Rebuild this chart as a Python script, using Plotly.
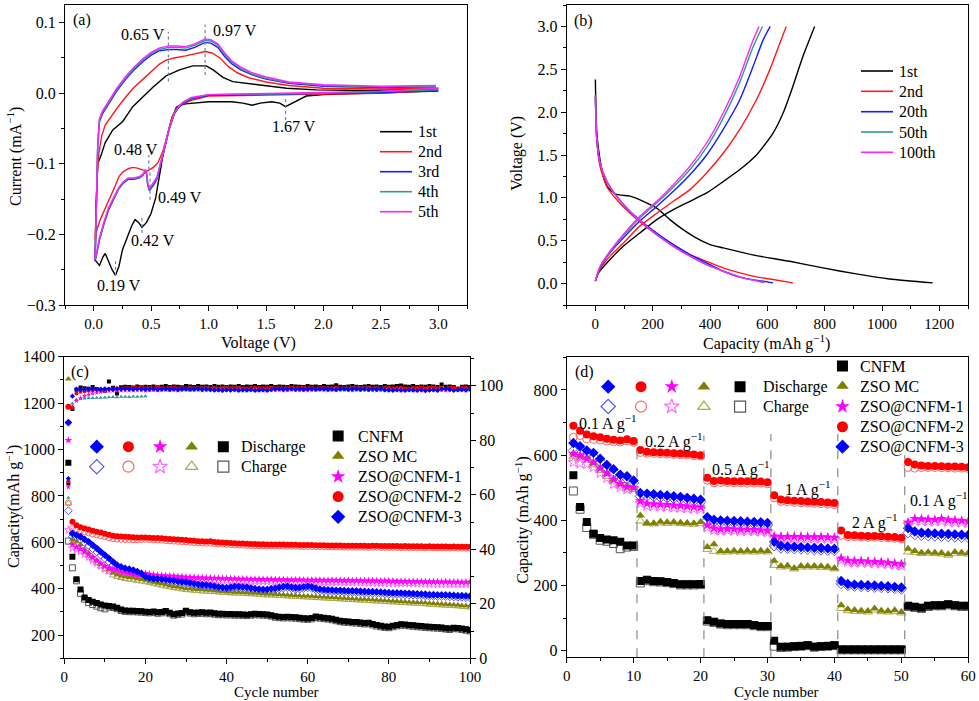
import plotly.graph_objects as go

W, H = 979, 701
FONT = "Liberation Serif"


def px(x):
    return x / W


def py(y):
    return 1 - y / H


# ---------------- (a) CV data ----------------
cv_labels = ["1st", "2nd", "3rd", "4th", "5th"]
cv_colors = ["#000000", "#ff1a1a", "#1a1aff", "#2e9c8c", "#ff22ff"]

cv1_v = [3.0, 2.5, 2.0, 1.85, 1.78, 1.72, 1.67, 1.62, 1.55, 1.45, 1.38, 1.3, 1.2, 1.0, 0.9, 0.8, 0.75, 0.72,
         0.68, 0.64, 0.6, 0.57, 0.54, 0.5, 0.46, 0.42, 0.39, 0.36, 0.33, 0.29, 0.25, 0.22, 0.19, 0.16, 0.13,
         0.1, 0.08, 0.05, 0.03, 0.012,
         0.02, 0.035, 0.064, 0.1, 0.166, 0.253, 0.34, 0.427, 0.515, 0.63, 0.747, 0.863, 0.98, 1.04, 1.125,
         1.21, 1.36, 1.5, 1.68, 1.94, 2.37, 2.96, 3.0]
cv1_i = [0.003, 0.0, -0.002, -0.004, -0.01, -0.015, -0.019, -0.014, -0.012, -0.014, -0.017, -0.014, -0.012,
         -0.012, -0.013, -0.015, -0.017, -0.02, -0.035, -0.06, -0.09, -0.12, -0.148, -0.17, -0.183, -0.19,
         -0.183, -0.179, -0.188, -0.205, -0.222, -0.245, -0.258, -0.25, -0.238, -0.227, -0.232, -0.244,
         -0.24, -0.236,
         -0.16, -0.1, -0.088, -0.07, -0.052, -0.04, -0.019, -0.005, 0.0085, 0.0245, 0.033, 0.0387, 0.0387,
         0.033, 0.0226, 0.0165, 0.0132, 0.011, 0.007, 0.0047, 0.0038, 0.0057, 0.007]

cv2_v = [3.0, 2.5, 2.0, 1.5, 1.0, 0.85, 0.78, 0.72, 0.68, 0.64, 0.6, 0.56, 0.52, 0.49, 0.47, 0.45, 0.42, 0.38,
         0.34, 0.3, 0.25, 0.22, 0.19, 0.15, 0.1, 0.06, 0.03, 0.012,
         0.02, 0.03, 0.045, 0.07, 0.1, 0.15, 0.2, 0.28, 0.35, 0.43, 0.5, 0.57, 0.63, 0.7, 0.8, 0.9, 0.97,
         1.03, 1.1, 1.17, 1.25, 1.35, 1.5, 1.7, 2.0, 2.5, 2.98]
cv2_i = [0.004, 0.0, -0.001, -0.002, -0.004, -0.01, -0.015, -0.022, -0.035, -0.06, -0.083, -0.098, -0.105,
         -0.108, -0.11, -0.11, -0.108, -0.106, -0.105, -0.107, -0.112, -0.118, -0.13, -0.145, -0.162,
         -0.178, -0.192, -0.207,
         -0.17, -0.12, -0.085, -0.06, -0.045, -0.033, -0.022, -0.005, 0.008, 0.02, 0.031, 0.041, 0.047,
         0.05, 0.053, 0.057, 0.059, 0.057, 0.05, 0.038, 0.029, 0.022, 0.016, 0.011, 0.007, 0.006, 0.007]

cv3_v = [3.0, 2.5, 2.0, 1.5, 1.0, 0.85, 0.78, 0.74, 0.7, 0.66, 0.62, 0.58, 0.55, 0.52, 0.5, 0.485, 0.47,
         0.46, 0.45, 0.43, 0.4, 0.35, 0.3, 0.26, 0.22, 0.18, 0.13, 0.09, 0.05, 0.03, 0.012,
         0.018, 0.025, 0.035, 0.05, 0.08, 0.12, 0.2, 0.28, 0.35, 0.43, 0.5, 0.57, 0.65, 0.72, 0.8, 0.88,
         0.93, 0.97, 1.02, 1.08, 1.14, 1.2, 1.28, 1.38, 1.5, 1.7, 2.0, 2.5, 2.98]
cv3_i = [0.004, 0.001, 0.0, -0.001, -0.003, -0.008, -0.014, -0.02, -0.03, -0.05, -0.075, -0.103, -0.122,
         -0.13, -0.135, -0.138, -0.13, -0.115, -0.11, -0.116, -0.12, -0.122, -0.122, -0.127, -0.135,
         -0.148, -0.165, -0.185, -0.208, -0.225, -0.238,
         -0.2, -0.13, -0.075, -0.04, -0.028, -0.018, 0.003, 0.02, 0.033, 0.045, 0.054, 0.06, 0.062, 0.062,
         0.061, 0.065, 0.069, 0.072, 0.071, 0.065, 0.052, 0.042, 0.033, 0.026, 0.02, 0.014, 0.01, 0.008,
         0.009]

cv4_v = [3.0, 2.5, 2.0, 1.5, 1.0, 0.85, 0.78, 0.74, 0.7, 0.66, 0.62, 0.58, 0.55, 0.52, 0.5, 0.485, 0.47,
         0.46, 0.45, 0.43, 0.4, 0.35, 0.3, 0.26, 0.22, 0.18, 0.13, 0.09, 0.05, 0.03, 0.012,
         0.018, 0.025, 0.035, 0.05, 0.08, 0.12, 0.2, 0.28, 0.35, 0.43, 0.5, 0.57, 0.65, 0.72, 0.8, 0.88,
         0.93, 0.97, 1.02, 1.08, 1.14, 1.2, 1.28, 1.38, 1.5, 1.7, 2.0, 2.5, 2.98]
cv4_i = [0.005, 0.002, 0.0, -0.001, -0.002, -0.007, -0.013, -0.019, -0.029, -0.049, -0.073, -0.101,
         -0.12, -0.128, -0.133, -0.136, -0.128, -0.113, -0.109, -0.115, -0.119, -0.121, -0.121, -0.126,
         -0.134, -0.146, -0.163, -0.183, -0.206, -0.223, -0.236,
         -0.198, -0.128, -0.073, -0.038, -0.026, -0.016, 0.005, 0.022, 0.035, 0.047, 0.056, 0.062, 0.065,
         0.065, 0.064, 0.068, 0.072, 0.075, 0.074, 0.068, 0.055, 0.044, 0.035, 0.027, 0.021, 0.015, 0.011,
         0.009, 0.01]

cv5_v = [3.0, 2.5, 2.0, 1.5, 1.0, 0.85, 0.78, 0.74, 0.7, 0.66, 0.62, 0.58, 0.55, 0.52, 0.5, 0.485, 0.47,
         0.46, 0.45, 0.43, 0.4, 0.35, 0.3, 0.26, 0.22, 0.18, 0.13, 0.09, 0.05, 0.03, 0.012,
         0.018, 0.025, 0.035, 0.05, 0.08, 0.12, 0.2, 0.28, 0.35, 0.43, 0.5, 0.57, 0.65, 0.72, 0.8, 0.88,
         0.93, 0.97, 1.02, 1.08, 1.14, 1.2, 1.28, 1.38, 1.5, 1.7, 2.0, 2.5, 2.98]
cv5_i = [0.007, 0.003, 0.001, 0.0, -0.002, -0.006, -0.012, -0.018, -0.028, -0.048, -0.072, -0.1, -0.119,
         -0.127, -0.132, -0.135, -0.127, -0.112, -0.108, -0.114, -0.118, -0.12, -0.12, -0.125, -0.133,
         -0.145, -0.162, -0.182, -0.205, -0.222, -0.235,
         -0.196, -0.126, -0.071, -0.036, -0.024, -0.014, 0.007, 0.024, 0.037, 0.049, 0.058, 0.064, 0.067,
         0.067, 0.066, 0.07, 0.074, 0.077, 0.076, 0.07, 0.057, 0.046, 0.037, 0.029, 0.023, 0.016, 0.012,
         0.01, 0.011]

cv_peak_v = [0.65, 0.97, 1.67, 0.48, 0.49, 0.42, 0.19]
cv_peak_lo = [0.0165, 0.026, -0.038, -0.108, -0.151, -0.198, -0.259]
cv_peak_hi = [0.087, 0.097, -0.005, -0.087, -0.108, -0.172, -0.238]
cv_peak_text = ["0.65 V", "0.97 V", "1.67 V", "0.48 V", "0.49 V", "0.42 V", "0.19 V"]
cv_text_x = [0.43, 1.23, 1.74, 0.37, 0.75, 0.52, 0.22]
cv_text_y = [0.083, 0.089, -0.047, -0.079, -0.147, -0.208, -0.273]

# ---------------- (b) charge/discharge data ----------------
gcd_labels = ["1st", "2nd", "20th", "50th", "100th"]
gcd_colors = ["#000000", "#ff1a1a", "#1a1aff", "#2e9c8c", "#ff22ff"]

g1_dis_c = [0, 5, 16, 28, 45, 74, 121, 167, 214, 260, 306, 353, 400, 446, 504, 562, 678, 794, 910, 1026, 1177]
g1_dis_v = [2.38, 1.76, 1.45, 1.25, 1.115, 1.04, 1.02, 0.96, 0.88, 0.746, 0.63, 0.53, 0.455, 0.416, 0.37,
            0.326, 0.26, 0.183, 0.113, 0.054, 0.008]
g1_chg_c = [0, 10, 40, 97, 155, 214, 272, 330, 388, 446, 504, 562, 620, 655, 689, 724, 765]
g1_chg_v = [0.03, 0.12, 0.24, 0.435, 0.59, 0.746, 0.863, 0.96, 1.057, 1.19, 1.33, 1.5, 1.756, 1.99, 2.3, 2.65, 3.0]

g2_dis_c = [0, 5, 16, 40, 74, 121, 167, 214, 272, 330, 388, 446, 504, 562, 620, 689]
g2_dis_v = [2.2, 1.68, 1.37, 1.13, 0.98, 0.82, 0.69, 0.57, 0.455, 0.338, 0.26, 0.183, 0.124, 0.078, 0.047, 0.008]
g2_chg_c = [0, 16, 51, 97, 155, 214, 272, 330, 388, 446, 504, 562, 608, 643, 666]
g2_chg_v = [0.03, 0.16, 0.32, 0.47, 0.67, 0.82, 0.96, 1.096, 1.29, 1.52, 1.8, 2.145, 2.49, 2.8, 3.0]

g20_dis_c = [0, 5, 16, 40, 74, 121, 167, 214, 272, 330, 388, 446, 515, 580, 620]
g20_dis_v = [2.18, 1.68, 1.41, 1.19, 1.02, 0.84, 0.71, 0.59, 0.455, 0.338, 0.24, 0.144, 0.066, 0.03, 0.008]
g20_chg_c = [0, 16, 51, 97, 155, 214, 272, 330, 388, 446, 504, 550, 585, 610]
g20_chg_v = [0.03, 0.18, 0.36, 0.53, 0.73, 0.9, 1.076, 1.27, 1.5, 1.8, 2.145, 2.53, 2.84, 3.0]

g50_dis_c = [0, 5, 16, 40, 74, 121, 167, 214, 272, 330, 388, 446, 515, 590]
g50_dis_v = [2.18, 1.68, 1.41, 1.19, 1.02, 0.84, 0.70, 0.57, 0.435, 0.32, 0.22, 0.144, 0.066, 0.012]
g50_chg_c = [0, 16, 51, 97, 155, 214, 272, 330, 388, 446, 504, 550, 583]
g50_chg_v = [0.03, 0.19, 0.37, 0.555, 0.765, 0.94, 1.125, 1.33, 1.59, 1.93, 2.35, 2.76, 3.0]

g100_dis_c = [0, 5, 16, 40, 74, 121, 167, 214, 272, 330, 388, 446, 515, 585]
g100_dis_v = [2.18, 1.68, 1.41, 1.19, 1.02, 0.84, 0.70, 0.57, 0.435, 0.32, 0.22, 0.144, 0.066, 0.016]
g100_chg_c = [0, 16, 51, 97, 155, 214, 272, 330, 388, 446, 504, 550, 571]
g100_chg_v = [0.03, 0.2, 0.377, 0.57, 0.785, 0.96, 1.154, 1.37, 1.64, 1.99, 2.42, 2.84, 3.0]

# ---------------- (c) cycling data ----------------
cycles_c = list(range(1, 101))
samples = ["CNFM", "ZSO MC", "ZSO@CNFM-1", "ZSO@CNFM-2", "ZSO@CNFM-3"]
fill_colors = ["#000000", "#808000", "#ff00ff", "#ff0000", "#0000ff"]
open_colors = ["#555555", "#a8a850", "#ff66ff", "#ff6666", "#5555ff"]
ce_colors = ["#000000", "#2e9c8c", "#ff00ff", "#ff0000", "#0000ff"]
symbols = ["square", "triangle-up", "star", "circle", "diamond"]

cnfm_dis = [943, 538, 441, 397, 362, 351, 344, 338, 332, 328,
            325, 323, 318, 310, 306, 305, 305, 304, 303, 301,
            300, 302, 298, 300, 304, 296, 290, 293, 295, 305,
            299, 296, 297, 298, 296, 297, 294, 292, 292, 291,
            291, 290, 290, 289, 288, 290, 292, 291, 290, 289,
            286, 281, 279, 278, 279, 278, 277, 275, 273, 272,
            274, 280, 277, 275, 273, 270, 266, 262, 260, 259,
            257, 256, 254, 252, 253, 248, 243, 240, 237, 236,
            240, 244, 247, 246, 244, 242, 240, 239, 237, 236,
            235, 234, 233, 230, 228, 232, 231, 228, 225, 222]
cnfm_chg = [605, 490, 434, 380, 355, 340, 332, 325, 318, 313,
            321, 319, 314, 306, 302, 301, 301, 300, 299, 297,
            296, 298, 294, 296, 300, 292, 286, 289, 291, 301,
            295, 292, 293, 294, 292, 293, 290, 288, 288, 287,
            287, 286, 286, 285, 284, 286, 288, 287, 286, 285,
            282, 277, 275, 274, 275, 274, 273, 271, 269, 268,
            270, 276, 273, 271, 269, 266, 262, 258, 256, 255,
            253, 252, 250, 248, 249, 244, 239, 236, 233, 232,
            236, 240, 243, 242, 240, 238, 236, 235, 233, 232,
            231, 230, 229, 226, 224, 228, 227, 224, 221, 218]
zso_dis = [1304, 612, 605, 590, 570, 555, 538, 523, 508, 495,
           482, 468, 460, 455, 451, 448, 446, 443, 440, 437,
           433, 429, 425, 421, 417, 413, 410, 407, 404, 401,
           400, 398, 397, 395, 394, 393, 391, 390, 388, 387,
           386, 385, 385, 384, 383, 382, 381, 380, 378, 377,
           377, 376, 375, 374, 373, 372, 371, 370, 369, 368,
           367, 366, 365, 364, 363, 362, 361, 360, 359, 358,
           357, 356, 355, 354, 353, 352, 351, 350, 349, 348,
           347, 346, 345, 344, 343, 342, 341, 340, 339, 337,
           336, 335, 334, 333, 332, 331, 330, 328, 327, 325]
zso_chg = [768, 598, 590, 575, 556, 541, 525, 510, 496, 483,
           470, 457, 450, 446, 442, 439, 437, 434, 431, 428,
           425, 421, 417, 413, 409, 406, 403, 400, 397, 394,
           393, 391, 390, 388, 387, 386, 385, 384, 382, 381,
           380, 379, 379, 378, 377, 376, 375, 374, 372, 371,
           371, 370, 369, 368, 367, 366, 365, 364, 363, 362,
           361, 360, 359, 358, 357, 356, 355, 354, 353, 352,
           351, 350, 349, 348, 347, 346, 345, 344, 343, 342,
           341, 340, 339, 338, 337, 336, 335, 334, 333, 331,
           330, 329, 328, 327, 326, 325, 324, 322, 321, 319]
m1_dis = [1040, 590, 580, 572, 560, 548, 535, 520, 508, 497,
          490, 484, 479, 474, 470, 466, 463, 460, 458, 466,
          462, 460, 458, 457, 456, 455, 454, 452, 451, 450,
          449, 448, 447, 447, 446, 446, 445, 445, 444, 444,
          443, 443, 442, 442, 442, 441, 441, 441, 440, 440,
          440, 439, 439, 439, 438, 438, 438, 438, 437, 437,
          437, 437, 437, 436, 436, 437, 436, 436, 435, 436,
          435, 435, 435, 434, 434, 434, 434, 433, 434, 433,
          433, 432, 432, 432, 431, 431, 431, 431, 430, 430,
          430, 430, 429, 430, 429, 429, 429, 428, 429, 429]
m1_chg = [653, 575, 568, 560, 548, 536, 523, 509, 497, 486,
          479, 474, 469, 464, 460, 457, 454, 451, 449, 456,
          453, 451, 449, 448, 447, 446, 445, 443, 442, 441,
          440, 439, 438, 438, 437, 437, 436, 436, 435, 435,
          434, 434, 433, 433, 433, 432, 432, 432, 431, 431,
          431, 430, 430, 430, 429, 429, 429, 429, 428, 428,
          428, 428, 428, 427, 427, 428, 427, 427, 426, 427,
          426, 426, 426, 425, 425, 425, 425, 424, 425, 424,
          424, 423, 423, 423, 422, 422, 422, 422, 421, 421,
          421, 421, 420, 421, 420, 420, 420, 419, 420, 420]
m2_dis = [1184, 689, 674, 665, 659, 655, 650, 646, 642, 637,
          633, 628, 626, 625, 624, 623, 622, 621, 621, 621,
          620, 619, 618, 617, 615, 614, 613, 612, 611, 610,
          608, 607, 605, 604, 603, 604, 601, 600, 599, 598,
          597, 596, 595, 595, 594, 593, 593, 592, 592, 591,
          591, 590, 590, 590, 589, 589, 589, 588, 588, 588,
          588, 587, 587, 587, 586, 586, 586, 586, 585, 585,
          585, 585, 585, 585, 584, 585, 585, 584, 584, 584,
          584, 584, 583, 584, 583, 583, 583, 583, 582, 583,
          582, 582, 582, 582, 581, 582, 581, 581, 581, 581]
m2_chg = [770, 660, 655, 650, 645, 640, 636, 632, 628, 624,
          620, 616, 614, 613, 612, 612, 611, 611, 612, 613,
          612, 611, 610, 609, 607, 606, 605, 604, 603, 602,
          600, 599, 598, 597, 596, 596, 594, 593, 592, 591,
          590, 589, 588, 588, 587, 586, 586, 585, 585, 584,
          585, 584, 584, 584, 583, 583, 583, 582, 582, 582,
          582, 581, 581, 581, 580, 580, 580, 580, 579, 579,
          579, 579, 579, 579, 578, 579, 579, 578, 578, 578,
          578, 578, 577, 578, 577, 577, 577, 577, 576, 577,
          576, 576, 576, 576, 575, 576, 575, 575, 575, 575]
m3_dis = [1116, 638, 631, 624, 613, 602, 588, 574, 559, 545,
          531, 516, 502, 494, 488, 484, 480, 474, 466, 452,
          447, 444, 442, 441, 439, 437, 435, 432, 430, 428,
          425, 422, 419, 417, 416, 414, 411, 408, 406, 404,
          407, 410, 409, 408, 407, 403, 400, 398, 397, 397,
          400, 402, 406, 409, 411, 407, 404, 405, 408, 411,
          408, 402, 398, 396, 395, 394, 393, 393, 392, 391,
          391, 390, 389, 388, 387, 387, 386, 385, 384, 383,
          382, 382, 381, 380, 380, 379, 378, 377, 376, 374,
          374, 373, 373, 373, 372, 371, 370, 370, 369, 368]
m3_chg = [736, 625, 618, 610, 598, 586, 572, 558, 544, 530,
          516, 502, 490, 484, 479, 475, 471, 466, 458, 446,
          440, 437, 435, 434, 432, 430, 428, 425, 423, 421,
          418, 415, 412, 410, 409, 407, 404, 401, 399, 397,
          400, 403, 402, 401, 400, 396, 393, 391, 390, 390,
          393, 395, 399, 402, 404, 400, 397, 398, 401, 404,
          401, 395, 391, 389, 388, 387, 386, 386, 385, 384,
          384, 383, 382, 381, 380, 380, 379, 378, 377, 376,
          375, 375, 374, 373, 373, 372, 371, 370, 369, 367,
          367, 366, 366, 366, 365, 364, 363, 363, 362, 361]

ce_cnfm = [64.2, 91.5, 98.6, 99.4, 99.1, 98.9, 99.6, 98.8, 98.4, 98.2,
           101.6, 99.3, 97.2, 99.5, 99.7, 99.6, 99.4, 99.8, 99.5, 99.7,
           99.6, 99.8, 99.5, 99.7, 99.9, 99.6, 99.8, 99.7, 99.5, 99.9,
           99.8, 99.6, 99.9, 99.7, 99.8, 99.6, 99.9, 99.7, 99.8, 99.6,
           99.8, 99.7, 99.9, 99.6, 99.8, 99.7, 99.9, 99.6, 99.8, 99.7,
           99.9, 99.6, 99.8, 99.7, 99.6, 99.9, 99.8, 99.7, 99.6, 99.9,
           99.7, 99.8, 99.6, 99.9, 99.7, 99.8, 100.2, 99.7, 99.6, 99.8,
           99.9, 99.7, 99.6, 99.8, 99.9, 99.7, 99.8, 99.6, 99.9, 99.7,
           99.8, 99.9, 100.1, 99.8, 99.7, 99.9, 99.6, 99.8, 99.7, 99.9,
           99.8, 99.6, 100.5, 99.7, 99.8, 99.6, 98.9, 99.7, 99.8, 99.6]
ce_zso = [58.9, 93.5, 95.0, 95.3, 95.4, 95.5, 95.5, 95.6, 95.6, 95.7,
          95.8, 95.9, 95.8, 96.0, 96.0, 95.9, 96.1, 96.0, 96.1, 96.2,
          98.3, 98.4, 98.3, 98.5, 98.4, 98.3, 98.5, 98.4, 98.6, 98.5,
          98.4, 98.5, 98.6, 98.4, 98.5, 98.6, 98.5, 98.4, 98.6, 98.5,
          98.5, 98.6, 98.4, 98.5, 98.7, 98.5, 98.6, 98.4, 98.5, 98.6,
          98.5, 98.7, 98.6, 98.5, 98.4, 98.6, 98.5, 98.7, 98.6, 98.5,
          98.6, 98.5, 98.7, 98.6, 98.4, 98.5, 98.6, 98.7, 98.5, 98.6,
          98.4, 98.6, 98.5, 98.7, 98.6, 98.5, 98.6, 98.4, 98.5, 98.6,
          98.5, 98.7, 98.6, 98.5, 98.6, 98.4, 98.5, 98.7, 98.6, 98.5,
          98.6, 98.5, 98.7, 98.4, 98.6, 98.5, 98.6, 98.7, 98.5, 98.6]
ce_m1 = [62.8, 92.5, 94.5, 95.5, 96.3, 96.8, 97.2, 97.5, 97.8, 98.0,
         98.1, 98.2, 98.2, 98.3, 98.3, 98.4, 98.3, 98.4, 98.4, 98.2,
         98.4, 98.5, 98.3, 98.4, 98.6, 98.4, 98.5, 98.3, 98.4, 98.5,
         98.6, 98.4, 98.5, 98.3, 98.4, 98.6, 98.5, 98.4, 98.3, 98.5,
         98.4, 98.6, 98.5, 98.3, 98.4, 98.5, 98.6, 98.4, 98.3, 98.5,
         98.6, 98.4, 98.5, 98.3, 98.4, 98.6, 98.5, 98.4, 98.5, 98.3,
         98.4, 98.5, 98.6, 98.4, 98.3, 98.5, 98.4, 98.6, 98.5, 98.4,
         98.3, 98.5, 98.4, 98.6, 98.5, 98.4, 98.3, 98.5, 98.4, 98.6,
         98.5, 98.4, 98.3, 98.5, 98.6, 98.4, 98.5, 98.3, 98.4, 98.5,
         98.6, 98.4, 98.5, 98.3, 98.4, 98.6, 98.5, 98.4, 98.3, 98.5]
ce_m2 = [65.0, 92.0, 97.2, 97.8, 98.0, 98.2, 98.4, 98.6, 98.7, 98.8,
         98.9, 99.0, 99.1, 99.0, 99.2, 99.1, 99.2, 99.3, 99.2, 99.1,
         99.2, 99.1, 99.3, 99.2, 99.0, 99.2, 99.3, 99.1, 99.2, 99.0,
         99.3, 99.2, 99.1, 99.2, 99.3, 99.1, 99.2, 99.0, 99.2, 99.3,
         99.1, 99.2, 99.3, 99.1, 99.0, 99.2, 99.3, 99.2, 99.1, 99.2,
         99.3, 99.1, 99.2, 99.0, 99.2, 99.3, 99.1, 99.2, 99.3, 99.1,
         99.2, 99.0, 99.2, 99.3, 99.1, 99.2, 99.3, 99.1, 99.2, 99.0,
         99.2, 99.3, 99.1, 99.2, 99.3, 99.1, 99.2, 99.0, 99.2, 99.3,
         99.1, 99.2, 99.3, 99.1, 99.0, 99.2, 99.3, 99.2, 99.1, 99.2,
         99.3, 99.1, 99.2, 99.0, 99.2, 99.3, 99.1, 99.2, 99.3, 99.1]
ce_m3 = [66.0, 96.2, 98.8, 98.6, 98.7, 98.8, 98.9, 98.7, 98.8, 98.9,
         98.8, 98.7, 98.9, 98.8, 98.9, 98.8, 98.7, 98.9, 98.8, 98.7,
         98.8, 98.9, 98.7, 98.8, 98.9, 98.7, 98.8, 98.6, 98.8, 98.9,
         98.7, 98.8, 98.9, 98.7, 98.8, 98.6, 98.4, 98.5, 98.3, 98.5,
         98.4, 98.6, 98.3, 98.5, 98.4, 98.6, 98.3, 98.4, 98.5, 98.3,
         98.6, 98.8, 98.9, 98.7, 98.8, 98.9, 98.7, 98.8, 98.6, 98.8,
         98.9, 98.7, 98.8, 98.9, 98.7, 98.8, 98.6, 98.8, 98.9, 98.7,
         98.8, 98.9, 98.7, 98.8, 98.6, 98.8, 98.7, 98.9, 98.5, 98.4,
         98.3, 98.5, 98.4, 98.3, 98.5, 98.4, 98.3, 98.5, 98.2, 98.4,
         98.5, 98.3, 98.8, 98.9, 98.7, 98.3, 98.5, 98.6, 98.4, 98.8]

# ---------------- (d) rate data ----------------
cycles_d = list(range(1, 61))
d_cnfm_dis = [538, 441, 395, 359, 346, 341, 339, 334, 323, 323,
              214, 218, 214, 213, 211, 208, 204, 204, 204, 205,
              94, 89, 84, 82, 82, 82, 82, 79, 76, 76,
              31, 12, 12, 14, 15, 17, 12, 14, 15, 17,
              4, 4, 4, 4, 4, 4, 4, 4, 4, 4,
              138, 135, 132, 138, 140, 140, 143, 140, 138, 138]
d_cnfm_chg = [490, 434, 378, 357, 339, 336, 329, 313, 318, 320,
              208, 215, 212, 211, 209, 206, 202, 202, 202, 203,
              91, 87, 82, 80, 80, 80, 80, 77, 74, 74,
              14, 10, 11, 13, 14, 16, 11, 13, 14, 16,
              3, 3, 3, 3, 3, 3, 3, 3, 3, 3,
              136, 133, 130, 136, 138, 138, 141, 138, 136, 136]
d_zso_dis = [605, 600, 592, 577, 560, 542, 525, 512, 506, 500,
             415, 392, 391, 396, 394, 395, 393, 392, 391, 395,
             318, 327, 306, 306, 307, 306, 307, 306, 307, 306,
             276, 260, 261, 253, 260, 260, 260, 259, 258, 253,
             140, 127, 125, 123, 122, 130, 123, 122, 124, 119,
             313, 306, 301, 302, 301, 300, 296, 303, 301, 300]
d_zso_chg = [595, 592, 585, 570, 553, 535, 518, 505, 500, 495,
             398, 390, 389, 392, 391, 392, 390, 389, 388, 391,
             311, 305, 303, 303, 304, 303, 304, 303, 304, 303,
             262, 257, 258, 251, 257, 257, 257, 256, 255, 251,
             130, 123, 121, 120, 119, 125, 120, 119, 120, 116,
             303, 302, 298, 299, 298, 297, 293, 299, 298, 297]
d_m1_dis = [604, 598, 590, 578, 560, 545, 525, 512, 503, 500,
            459, 452, 450, 449, 448, 446, 445, 443, 441, 440,
            385, 376, 373, 374, 373, 372, 372, 371, 370, 368,
            351, 350, 350, 350, 350, 349, 349, 349, 348, 347,
            284, 277, 275, 275, 274, 273, 272, 270, 268, 266,
            394, 405, 404, 403, 402, 405, 401, 400, 399, 397]
d_m1_chg = [578, 574, 572, 563, 545, 530, 512, 502, 495, 497,
            452, 444, 443, 442, 441, 439, 438, 436, 435, 434,
            378, 370, 368, 369, 368, 367, 367, 366, 365, 363,
            345, 345, 345, 345, 345, 344, 344, 344, 343, 342,
            278, 272, 270, 270, 269, 268, 267, 265, 263, 261,
            387, 398, 398, 397, 396, 398, 395, 394, 393, 391]
d_m2_dis = [690, 675, 663, 658, 655, 650, 647, 645, 649, 643,
            616, 610, 609, 608, 607, 606, 605, 604, 602, 600,
            531, 521, 522, 521, 520, 520, 520, 519, 519, 517,
            477, 464, 462, 460, 459, 458, 457, 456, 455, 453,
            369, 355, 354, 353, 352, 352, 351, 350, 349, 347,
            579, 571, 568, 567, 567, 566, 565, 565, 564, 563]
d_m2_chg = [655, 660, 650, 648, 646, 643, 641, 640, 644, 639,
            608, 606, 605, 604, 603, 602, 601, 600, 598, 597,
            523, 515, 516, 516, 515, 515, 514, 514, 514, 512,
            469, 458, 457, 455, 454, 453, 452, 451, 450, 448,
            354, 350, 350, 349, 348, 348, 347, 346, 345, 343,
            562, 560, 562, 562, 562, 561, 561, 560, 560, 559]
d_m3_dis = [637, 627, 614, 607, 589, 570, 557, 540, 535, 522,
            484, 482, 480, 478, 476, 474, 472, 469, 466, 463,
            410, 402, 400, 399, 398, 397, 396, 395, 394, 392,
            334, 322, 320, 319, 318, 317, 316, 315, 314, 313,
            214, 205, 203, 202, 201, 200, 199, 198, 196, 194,
            376, 366, 362, 361, 360, 359, 358, 357, 356, 355]
d_m3_chg = [614, 610, 603, 596, 580, 562, 549, 533, 528, 515,
            474, 474, 473, 471, 469, 467, 465, 462, 459, 456,
            400, 395, 393, 393, 392, 391, 390, 389, 388, 386,
            322, 315, 314, 313, 312, 311, 310, 309, 308, 307,
            206, 200, 198, 197, 196, 195, 194, 193, 191, 189,
            362, 356, 354, 353, 352, 351, 350, 349, 348, 347]

rate_labels = ["0.1 A g<sup>−1</sup>", "0.2 A g<sup>−1</sup>", "0.5 A g<sup>−1</sup>",
               "1 A g<sup>−1</sup>", "2 A g<sup>−1</sup>", "0.1 A g<sup>−1</sup>"]
rate_label_x = [6.1, 16.0, 26.1, 36.1, 46.0, 55.6]
rate_label_y = [701, 645, 558, 497, 395, 463]
rate_bounds = [10.5, 20.5, 30.5, 40.5, 50.5]
rate_bound_top = [620, 660, 665, 665, 600]

# ---------------- figure ----------------
fig = go.Figure()

cv_v = [cv1_v, cv2_v, cv3_v, cv4_v, cv5_v]
cv_i = [cv1_i, cv2_i, cv3_i, cv4_i, cv5_i]
for name, col, v, i in zip(cv_labels, cv_colors, cv_v, cv_i):
    fig.add_trace(go.Scatter(x=v, y=i, mode="lines", name=name, line=dict(color=col, width=1.4),
                             xaxis="x", yaxis="y", showlegend=False))

gcd_dis_c = [g1_dis_c, g2_dis_c, g20_dis_c, g50_dis_c, g100_dis_c]
gcd_dis_v = [g1_dis_v, g2_dis_v, g20_dis_v, g50_dis_v, g100_dis_v]
gcd_chg_c = [g1_chg_c, g2_chg_c, g20_chg_c, g50_chg_c, g100_chg_c]
gcd_chg_v = [g1_chg_v, g2_chg_v, g20_chg_v, g50_chg_v, g100_chg_v]
for name, col, dc, dv, cc, cvv in zip(gcd_labels, gcd_colors, gcd_dis_c, gcd_dis_v, gcd_chg_c, gcd_chg_v):
    fig.add_trace(go.Scatter(x=dc + [None] + cc, y=dv + [None] + cvv, mode="lines", name=name,
                             line=dict(color=col, width=1.4, shape="spline", smoothing=0.6),
                             xaxis="x2", yaxis="y2", showlegend=False))

# (c)
c_dis = [cnfm_dis, zso_dis, m1_dis, m2_dis, m3_dis]
c_chg = [cnfm_chg, zso_chg, m1_chg, m2_chg, m3_chg]
c_ce = [ce_cnfm, ce_zso, ce_m1, ce_m2, ce_m3]
for k in range(5):
    fig.add_trace(go.Scatter(x=cycles_c, y=c_ce[k], mode="markers", showlegend=False,
                             marker=dict(symbol=symbols[k], size=4, color=ce_colors[k], line=dict(width=0)),
                             xaxis="x3", yaxis="y5"))
for k in range(5):
    fig.add_trace(go.Scatter(x=cycles_c, y=c_chg[k], mode="markers", showlegend=False,
                             marker=dict(symbol=symbols[k] + "-open", size=6, color=open_colors[k],
                                         line=dict(width=1, color=open_colors[k])),
                             xaxis="x3", yaxis="y3"))
for k in range(5):
    fig.add_trace(go.Scatter(x=cycles_c, y=c_dis[k], mode="markers", showlegend=False,
                             marker=dict(symbol=symbols[k], size=6, color=fill_colors[k], line=dict(width=0)),
                             xaxis="x3", yaxis="y3"))

# (d)
d_dis = [d_cnfm_dis, d_zso_dis, d_m1_dis, d_m2_dis, d_m3_dis]
d_chg = [d_cnfm_chg, d_zso_chg, d_m1_chg, d_m2_chg, d_m3_chg]
for k in range(5):
    fig.add_trace(go.Scatter(x=cycles_d, y=d_chg[k], mode="markers", showlegend=False,
                             marker=dict(symbol=symbols[k] + "-open", size=8, color=open_colors[k],
                                         line=dict(width=1, color=open_colors[k])),
                             xaxis="x4", yaxis="y4"))
for k in range(5):
    fig.add_trace(go.Scatter(x=cycles_d, y=d_dis[k], mode="markers", showlegend=False,
                             marker=dict(symbol=symbols[k], size=8, color=fill_colors[k], line=dict(width=0)),
                             xaxis="x4", yaxis="y4"))

# ----- key glyphs (legends drawn by hand for exact spacing) -----
key_order = [4, 3, 2, 1, 0]
key_c_x = [8.0, 15.8, 23.6, 31.4, 39.2]
key_c_y = [1012, 926]
key_d_x = [6.2, 11.1, 15.7, 20.5, 25.9]
key_d_y = [810, 749]
for (kx, ky, xa, ya) in [(key_c_x, key_c_y, "x3", "y3"), (key_d_x, key_d_y, "x4", "y4")]:
    for j, k in enumerate(key_order):
        fig.add_trace(go.Scatter(x=[kx[j]], y=[ky[0]], mode="markers", showlegend=False, hoverinfo="skip",
                                 marker=dict(symbol=symbols[k], size=11, color=fill_colors[k], line=dict(width=0)),
                                 xaxis=xa, yaxis=ya))
        fig.add_trace(go.Scatter(x=[kx[j]], y=[ky[1]], mode="markers", showlegend=False, hoverinfo="skip",
                                 marker=dict(symbol=symbols[k] + "-open", size=11, color=open_colors[k],
                                             line=dict(width=1.2, color=open_colors[k])),
                                 xaxis=xa, yaxis=ya))

# sample-name keys for (c) and (d)
name_key_c = dict(sx=67.5, tx=71.9, ys=[1058, 972, 883, 797, 710])
name_key_d = dict(sx=41.2, tx=43.5, ys=[873, 812, 749, 687, 626])
for key, xa, ya in [(name_key_c, "x3", "y3"), (name_key_d, "x4", "y4")]:
    for k in range(5):
        fig.add_trace(go.Scatter(x=[key["sx"]], y=[key["ys"][k]], mode="markers", showlegend=False,
                                 hoverinfo="skip",
                                 marker=dict(symbol=symbols[k], size=11, color=fill_colors[k], line=dict(width=0)),
                                 xaxis=xa, yaxis=ya))


def axis(rng, dtick, minor, dom, anchor, fmt=None, tick0=None, fsize=16):
    d = dict(range=rng, dtick=dtick, domain=dom, anchor=anchor, showline=True, linecolor="black",
             linewidth=1.2, mirror=True, ticks="outside", ticklen=5, tickwidth=1.2, tickcolor="black",
             showgrid=False, zeroline=False, tickfont=dict(family=FONT, size=fsize, color="black"),
             automargin=False,
             minor=dict(ticks="outside", ticklen=3, tickwidth=1, tickcolor="black", dtick=minor, showgrid=False))
    if fmt:
        d["tickformat"] = fmt
    if tick0 is not None:
        d["tick0"] = tick0
    return d


top_row = [py(305), py(5)]
layout = dict(
    width=W, height=H, margin=dict(l=0, r=0, t=0, b=0), autosize=False, showlegend=False,
    paper_bgcolor="white", plot_bgcolor="white",
    font=dict(family=FONT, size=16, color="black"),
    xaxis=axis([-0.25, 3.25], 0.5, 0.25, [px(65), px(467)], "y", ".1f", 0, 15),
    yaxis=axis([-0.3, 0.125], 0.1, 0.05, top_row, "x", ".1f", 0),
    xaxis2=axis([-100, 1300], 200, 100, [px(566.7), px(968)], "y2", None, 0, 15),
    yaxis2=axis([-0.25, 3.25], 0.5, 0.25, top_row, "x2", ".1f", 0),
    xaxis3=axis([0, 100], 20, 10, [px(64.3), px(470)], "y3", None, 0, 15),
    yaxis3=axis([100, 1400], 200, 100, [py(658.3), py(356.7)], "x3", None, 200),
    xaxis4=axis([0, 60], 10, 5, [px(566.7), px(968.3)], "y4", None, 0, 15),
    yaxis4=axis([-20, 900], 200, 100, [py(657.3), py(357.3)], "x4", None, 0),
)
y5 = axis([0, 110.7], 20, 10, [py(658.3), py(356.7)], "x3", None, 0)
y5.update(overlaying="y3", side="right", mirror=False)
layout["yaxis5"] = y5

ann = []


def paper_text(text, x, y, size=16, angle=0, anchor="center"):
    ann.append(dict(text=text, x=px(x), y=py(y), xref="paper", yref="paper", showarrow=False,
                    textangle=angle, font=dict(family=FONT, size=size, color="black"),
                    xanchor=anchor, yanchor="middle"))


paper_text("(a)", 81.7, 20)
paper_text("(b)", 583.3, 20.7)
paper_text("(c)", 80, 371.7)
paper_text("(d)", 584, 372.3)
paper_text("Voltage (V)", 258.3, 342.5)
paper_text("Current (mA<sup>−1</sup>)", 15, 157, angle=-90)
paper_text("Capacity (mAh g<sup>−1</sup>)", 766.7, 342.5)
paper_text("Voltage (V)", 516.7, 153, angle=-90)
paper_text("Cycle number", 276.7, 692, size=15)
paper_text("Capacity(mAh g<sup>−1</sup>)", 13.3, 506.7, angle=-90)
paper_text("Cycle number", 776.7, 692, size=15)
paper_text("Capacity (mAh g<sup>−1</sup>)", 521.7, 520, angle=-90)

shapes = []
# line legends for (a) and (b)
leg_a_rows = [131.7, 151.7, 171.7, 191.7, 211.7]
leg_b_rows = [71, 91.3, 111.7, 132, 152.3]
for rows, labels, cols, x0, x1, tx in [(leg_a_rows, cv_labels, cv_colors, 380, 412, 416),
                                       (leg_b_rows, gcd_labels, gcd_colors, 861, 893, 897)]:
    for r, lab, col in zip(rows, labels, cols):
        shapes.append(dict(type="line", xref="paper", yref="paper", x0=px(x0), x1=px(x1), y0=py(r), y1=py(r),
                           line=dict(color=col, width=1.6)))
        paper_text(lab, tx, r, anchor="left")

for t, x, y in zip(cv_peak_text, cv_text_x, cv_text_y):
    ann.append(dict(text=t, x=x, y=y, xref="x", yref="y", showarrow=False,
                    font=dict(family=FONT, size=16, color="black"), xanchor="center", yanchor="middle"))
for t, x, y in zip(rate_labels, rate_label_x, rate_label_y):
    ann.append(dict(text=t, x=x, y=y, xref="x4", yref="y4", showarrow=False,
                    font=dict(family=FONT, size=16, color="black"), xanchor="center", yanchor="middle"))
for (tx, ty, xr, yr) in [(43.1, key_c_y, "x3", "y3"), (29.0, key_d_y, "x4", "y4")]:
    ann.append(dict(text="Discharge", x=tx, y=ty[0], xref=xr, yref=yr, showarrow=False,
                    font=dict(family=FONT, size=16, color="black"), xanchor="left", yanchor="middle"))
    ann.append(dict(text="Charge", x=tx, y=ty[1], xref=xr, yref=yr, showarrow=False,
                    font=dict(family=FONT, size=16, color="black"), xanchor="left", yanchor="middle"))
for key, xr, yr in [(name_key_c, "x3", "y3"), (name_key_d, "x4", "y4")]:
    for k in range(5):
        ann.append(dict(text=samples[k], x=key["tx"], y=key["ys"][k], xref=xr, yref=yr, showarrow=False,
                        font=dict(family=FONT, size=16, color="black"), xanchor="left", yanchor="middle"))
layout["annotations"] = ann

for v, lo, hi in zip(cv_peak_v, cv_peak_lo, cv_peak_hi):
    shapes.append(dict(type="line", xref="x", yref="y", x0=v, x1=v, y0=lo, y1=hi,
                       line=dict(color="#7080a0", width=1.2, dash="dot")))
for b, top in zip(rate_bounds, rate_bound_top):
    shapes.append(dict(type="line", xref="x4", yref="y4", x0=b, x1=b, y0=-20, y1=top,
                       line=dict(color="#8a8a8a", width=1.2, dash="dash")))
layout["shapes"] = shapes

fig.update_layout(**layout)
fig.write_html("out.html", config={"displayModeBar": False},
               post_script="document.body.style.margin='0px';")
